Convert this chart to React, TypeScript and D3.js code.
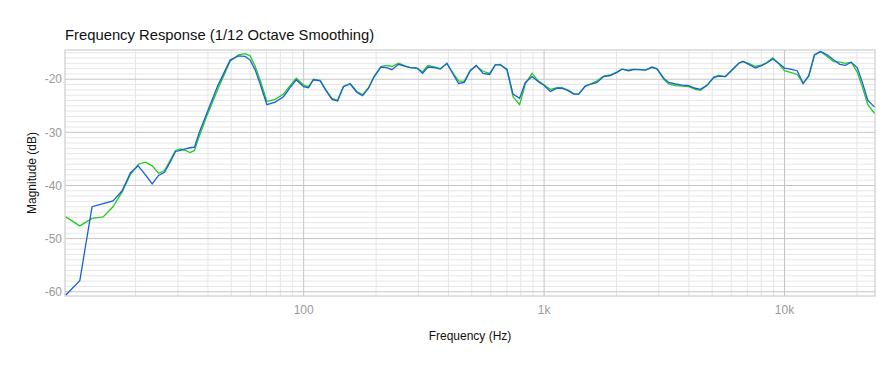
import * as d3 from "d3";

// frequency points (Hz)
const freqs = [
  10.25, 11.72, 13.18, 14.65, 16.11, 17.58, 19.04, 20.51, 21.97, 23.44,
  24.9, 26.37, 27.83, 29.3, 30.76, 32.2, 33.69, 35.16, 36.6, 39.55,
  43.94, 49.44, 53.55, 57.1, 59.9, 62.8, 65.9, 70.3, 76.1, 82.4,
  87.8, 93.1, 99.8, 104.7, 109.8, 117.1, 124.1, 131.1, 138.3, 146.4,
  156.2, 166.5, 175.7, 186.1, 196.6, 209.6, 222, 232.8, 248, 264.5,
  277.5, 295.9, 312.2, 328.7, 349.2, 369.8, 394.4, 420.2, 440.9, 465.6,
  493.2, 522.4, 556.9, 593.3, 626.6, 657.4, 700.8, 742.3, 790.7, 835.3,
  890.6, 948.6, 995.2, 1061, 1132, 1187, 1265, 1327, 1392, 1484,
  1572, 1660, 1768, 1886, 2011, 2110, 2247, 2358, 2514, 2638,
  2812, 2950, 3144, 3297, 3516, 3750, 3994, 4258, 4467, 4764,
  5076, 5323, 5677, 6053, 6449, 6701, 7097, 7568, 8070, 8465,
  8930, 9461, 9991, 10580, 11290, 11950, 12610, 13320, 14110, 15040,
  16030, 16970, 17920, 18930, 20050, 21040, 22200, 23660,
];

// blue trace (dB)
const blueDb = [
  -60.6, -57.9, -44.0, -43.4, -42.9, -41.0, -37.6, -36.3, -38.0, -39.7,
  -38.1, -37.5, -35.6, -33.6, -33.4, -33.1, -32.9, -32.8, -30.3, -26.4,
  -21.2, -16.4, -15.6, -15.7, -16.4, -18.2, -20.9, -24.8, -24.3, -23.3,
  -21.6, -20.1, -21.4, -21.6, -20.1, -20.3, -22.2, -23.8, -24.1, -21.4,
  -20.9, -22.5, -23.1, -21.7, -19.5, -17.7, -17.8, -18.2, -17.2, -17.6,
  -17.8, -17.9, -18.9, -17.7, -17.8, -18.1, -17.0, -19.2, -20.8, -20.6,
  -18.4, -17.4, -18.9, -19.1, -17.3, -17.3, -18.1, -22.8, -23.6, -20.6,
  -19.5, -20.5, -21.1, -22.3, -21.7, -21.7, -22.2, -22.8, -22.8, -21.3,
  -20.9, -20.6, -19.5, -19.3, -18.7, -18.1, -18.4, -18.2, -18.2, -18.3,
  -17.7, -18.1, -19.8, -20.6, -20.9, -21.1, -21.2, -21.7, -21.9, -21.1,
  -19.7, -19.4, -19.5, -18.2, -17.0, -16.6, -17.2, -17.9, -17.4, -16.9,
  -16.2, -17.0, -17.9, -18.1, -18.4, -20.8, -19.3, -15.4, -14.8, -15.4,
  -16.4, -17.2, -17.4, -16.8, -17.8, -20.5, -24.0, -25.2,
];

// green trace (dB)
const greenDb = [
  -45.9, -47.6, -46.2, -45.9, -44.0, -41.2, -37.9, -36.0, -35.6, -36.3,
  -37.7, -37.2, -35.3, -33.4, -33.1, -33.4, -33.8, -33.4, -31.0, -26.9,
  -21.9, -16.6, -15.4, -15.2, -15.6, -17.5, -20.2, -24.2, -23.8, -22.8,
  -21.2, -19.8, -21.1, -21.4, -20.0, -20.2, -22.1, -23.6, -24.0, -21.3,
  -20.8, -22.3, -22.9, -21.6, -19.4, -17.6, -17.4, -17.6, -17.0, -17.5,
  -17.8, -17.9, -18.6, -17.4, -17.7, -18.0, -17.1, -19.0, -20.3, -20.4,
  -18.3, -17.5, -18.5, -18.9, -17.3, -17.2, -18.3, -23.3, -24.8, -20.9,
  -18.9, -20.4, -21.0, -21.9, -21.6, -21.6, -22.1, -22.7, -22.8, -21.3,
  -20.8, -20.3, -19.4, -19.2, -18.6, -18.1, -18.3, -18.1, -18.2, -18.3,
  -17.8, -18.0, -20.0, -20.9, -21.2, -21.3, -21.4, -21.9, -22.1, -21.2,
  -19.6, -19.3, -19.5, -18.3, -17.0, -16.7, -17.0, -17.6, -17.3, -16.8,
  -16.0, -17.1, -18.4, -18.7, -19.1, -20.8, -19.5, -15.5, -14.8, -15.7,
  -16.7, -16.8, -17.0, -16.8, -18.6, -21.4, -24.8, -26.4,
];

const yTicks = [-60, -50, -40, -30, -20];
const xTicks = [100, 1000, 10000];
const xTickLabels = ["100", "1k", "10k"];

export default function App() {
  const width = 895,
    height = 367;
  const left = 65,
    right = 875,
    top = 50,
    bottom = 296;

  const x = d3.scaleLog().domain([10.17, 23780]).range([left, right]);
  const y = d3.scaleLinear().domain([-60.8, -14.5]).range([bottom, top]);

  const minorX: number[] = [];
  [10, 100, 1000, 10000].forEach((d) => {
    for (let k = 2; k <= 9; k++) {
      const f = d * k;
      if (f > 10.17 && f < 23780) minorX.push(f);
    }
  });
  const minorY = d3.range(-60, -14, 1).filter((v) => v % 10 !== 0);

  const line = d3
    .line<number>()
    .x((_d, i) => x(freqs[i]))
    .y((d) => y(d));

  const font = "Helvetica, 'Liberation Sans', Arial, sans-serif";

  return (
    <svg
      width={width}
      height={height}
      style={{ position: "absolute", left: 0, top: 0, background: "#fff" }}
      fontFamily={font}
    >
      <text x={left} y={40} fontSize={14.8} fill="#111">
        Frequency Response (1/12 Octave Smoothing)
      </text>

      {minorY.map((v) => (
        <line key={"my" + v} x1={left} x2={right} y1={y(v)} y2={y(v)} stroke="#e6e6e6" strokeWidth={1} />
      ))}
      {minorX.map((f) => (
        <line key={"mx" + f} x1={x(f)} x2={x(f)} y1={top} y2={bottom} stroke="#e6e6e6" strokeWidth={1} />
      ))}
      {yTicks.map((v) => (
        <line key={"gy" + v} x1={left} x2={right} y1={y(v)} y2={y(v)} stroke="#c4c4c4" strokeWidth={1} />
      ))}
      {xTicks.map((f) => (
        <line key={"gx" + f} x1={x(f)} x2={x(f)} y1={top} y2={bottom} stroke="#c4c4c4" strokeWidth={1} />
      ))}
      <rect x={left} y={top} width={right - left} height={bottom - top} fill="none" stroke="#c4c4c4" />

      <path d={line(greenDb) ?? ""} fill="none" stroke="#22cc22" strokeWidth={1.3} />
      <path d={line(blueDb) ?? ""} fill="none" stroke="#1a5fd8" strokeWidth={1.3} />

      {yTicks.map((v) => (
        <text key={"ty" + v} x={left - 3} y={y(v)} dy="0.35em" textAnchor="end" fontSize={12} fill="#999">
          {v}
        </text>
      ))}
      {xTicks.map((f, i) => (
        <text key={"tx" + f} x={x(f)} y={314} textAnchor="middle" fontSize={12} fill="#999">
          {xTickLabels[i]}
        </text>
      ))}

      <text x={(left + right) / 2} y={340} textAnchor="middle" fontSize={12} fill="#111">
        Frequency (Hz)
      </text>
      <text
        transform={`translate(36, ${(top + bottom) / 2}) rotate(-90)`}
        textAnchor="middle"
        fontSize={12}
        fill="#111"
      >
        Magnitude (dB)
      </text>
    </svg>
  );
}
